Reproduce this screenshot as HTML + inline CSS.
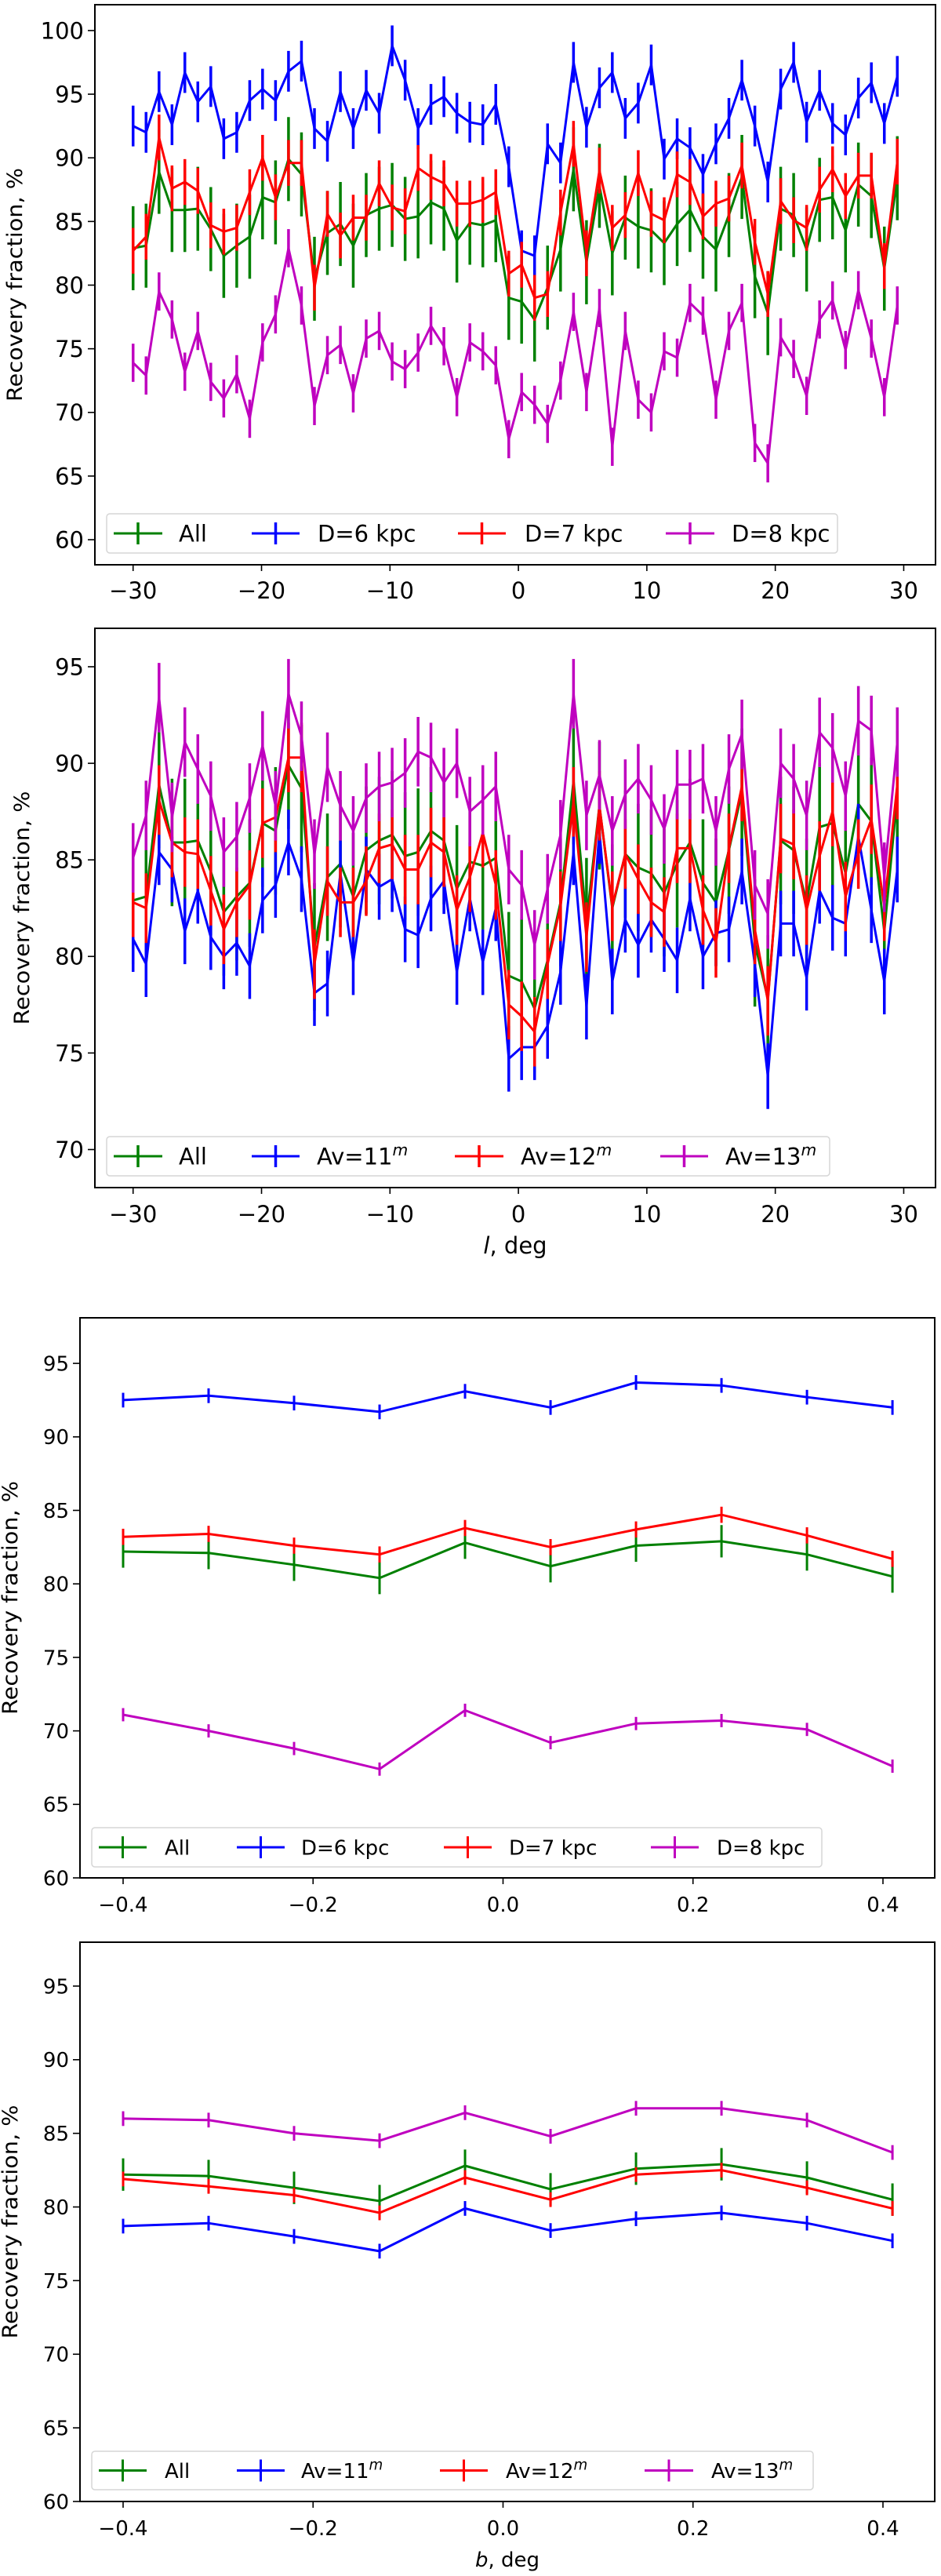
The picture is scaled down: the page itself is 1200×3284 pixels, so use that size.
<!DOCTYPE html>
<html><head><meta charset="utf-8"><style>
html,body{margin:0;padding:0;background:#fff;}
svg{display:block;}
</style></head><body>
<svg id="fig" xmlns="http://www.w3.org/2000/svg" width="1200" height="3284" viewBox="0 0 1200 3284"></svg>
<script>
// ---------- data ----------
const lVals = [-30.00,-28.99,-27.98,-26.97,-25.97,-24.96,-23.95,-22.94,-21.93,-20.92,-19.92,-18.91,-17.90,-16.89,-15.88,-14.87,-13.86,-12.86,-11.85,-10.84,-9.83,-8.82,-7.81,-6.81,-5.80,-4.79,-3.78,-2.77,-1.76,-0.75,0.25,1.26,2.27,3.28,4.29,5.30,6.31,7.31,8.32,9.33,10.34,11.35,12.36,13.36,14.37,15.38,16.39,17.40,18.41,19.42,20.42,21.43,22.44,23.45,24.46,25.47,26.47,27.48,28.49,29.50];
const bVals = [-0.40,-0.31,-0.22,-0.13,-0.04,0.05,0.14,0.23,0.32,0.41];

const lAll = [82.9,83.1,88.9,85.9,85.9,86.0,84.4,82.3,83.1,83.8,86.9,86.5,89.9,88.7,80.5,84.1,84.8,83.1,85.5,86.0,86.3,85.2,85.4,86.5,86.0,
 83.5,84.9,84.7,85.1,79.0,78.7,77.3,79.8,82.8,89.1,81.8,87.8,82.5,85.3,84.6,84.3,83.3,84.8,85.9,83.8,82.8,85.5,88.5,80.7,77.8,86.0,85.5,82.8,86.7,86.9,84.3,87.9,87.0,81.3,88.4];
const lD6 = [92.5,92.0,95.2,92.6,96.7,94.4,95.6,91.5,92.0,94.5,95.4,94.5,96.8,97.6,92.3,91.3,95.2,92.3,95.3,93.5,98.8,96.1,92.3,94.2,94.8,
 93.5,92.8,92.6,94.2,89.3,82.7,82.3,91.1,89.6,97.5,92.4,95.5,96.7,93.1,94.3,97.3,89.9,91.5,90.8,88.7,91.1,93.1,96.1,92.5,88.1,95.4,97.5,92.8,95.3,92.7,91.8,94.7,95.9,92.7,96.4];
const lD7 = [82.7,83.8,91.6,87.6,88.1,87.4,84.7,84.2,84.5,87.3,90.0,86.9,89.6,89.6,79.8,85.6,83.9,85.3,85.3,88.0,86.1,85.8,89.2,88.5,88.0,
 86.4,86.4,86.7,87.3,80.9,81.6,79.0,79.3,85.7,91.1,82.5,89.0,84.5,85.5,88.8,85.6,85.1,88.7,88.1,85.4,86.4,86.8,89.4,83.4,79.3,86.6,85.1,84.5,87.5,89.1,87.0,88.6,88.6,81.5,89.7];
const lD8 = [73.9,72.9,79.5,77.3,73.2,76.4,72.4,71.1,73.0,69.5,75.5,77.7,82.9,78.4,70.5,74.5,75.3,71.5,75.8,76.4,74.0,73.4,74.7,76.8,75.2,
 71.2,75.5,74.8,73.7,67.9,71.6,70.6,69.1,72.5,77.9,71.6,78.2,67.3,76.4,71.0,70.0,74.8,74.3,78.6,77.6,71.0,76.4,78.6,67.6,66.0,75.9,74.2,71.3,77.3,78.8,74.9,79.6,75.8,71.2,78.4];
const lAv11 = [80.9,79.6,85.4,84.5,81.3,83.4,81.0,80.0,80.7,79.5,82.9,83.7,85.9,84.0,78.1,78.6,84.3,79.7,84.5,83.6,84.0,81.4,81.1,83.0,83.9,
 79.2,83.0,79.7,82.5,74.7,75.3,75.3,76.4,79.2,85.4,77.4,86.5,78.7,81.9,80.6,81.9,80.9,79.8,83.0,80.0,81.2,81.4,84.4,79.6,73.8,81.7,81.7,78.9,83.4,82.0,81.7,86.2,82.4,78.7,84.5];
const lAv12 = [82.8,82.5,88.1,85.9,85.4,85.3,83.4,81.4,82.8,83.7,86.9,87.2,90.3,90.3,79.6,83.9,82.8,82.8,83.9,85.6,85.8,84.5,84.5,85.9,85.4,
 82.4,84.1,86.4,83.7,77.5,76.9,76.1,79.6,82.6,88.0,81.0,87.8,82.6,85.3,84.0,82.8,82.3,85.6,85.6,82.4,80.7,85.6,88.8,81.4,77.7,86.1,85.8,82.4,85.2,87.5,83.1,85.3,87.1,82.6,88.9];
const lAv13 = [85.1,87.3,93.4,87.2,91.1,89.7,88.3,85.4,86.2,88.2,90.9,87.8,93.6,91.4,85.3,89.8,87.8,86.5,88.2,88.8,89.0,89.5,90.6,90.3,89.0,
 90.0,87.5,88.1,88.8,84.5,83.7,80.6,83.5,86.3,93.6,87.3,89.4,86.5,88.4,89.2,88.1,86.6,88.9,88.9,89.2,86.5,89.7,91.5,83.7,82.2,90.0,89.2,87.3,91.6,90.8,88.3,92.2,91.7,84.1,91.1];

const bAll = [82.2,82.1,81.3,80.4,82.8,81.2,82.6,82.9,82.0,80.5];
const bD6 = [92.5,92.8,92.3,91.7,93.1,92.0,93.7,93.5,92.7,92.0];
const bD7 = [83.2,83.4,82.6,82.0,83.8,82.5,83.7,84.7,83.3,81.7];
const bD8 = [71.1,70.0,68.8,67.4,71.4,69.2,70.5,70.7,70.1,67.6];
const bAv11 = [78.7,78.9,78.0,77.0,79.9,78.4,79.2,79.6,78.9,77.7];
const bAv12 = [81.9,81.4,80.8,79.6,82.0,80.5,82.2,82.5,81.3,79.9];
const bAv13 = [86.0,85.9,85.0,84.5,86.4,84.8,86.7,86.7,85.9,83.7];

const errLAll = 3.3, errLD6 = 1.6, errLD7 = 1.8, errLD8 = 1.5;
const errLAv11 = 1.7, errLAv12 = 1.8, errLAv13 = 1.8;
const errBAll = 1.1, errBD6 = 0.5, errBD7 = 0.55, errBD8 = 0.45;
const errBAv = 0.5;

const lTicks = [-30,-20,-10,0,10,20,30];
const bTicks = [-0.4,-0.2,0.0,0.2,0.4];
const bTickLabels = ["\u22120.4","\u22120.2","0.0","0.2","0.4"];
const p1YTicks = [60,65,70,75,80,85,90,95,100];
const p2YTicks = [70,75,80,85,90,95];
const p34YTicks = [60,65,70,75,80,85,90,95];

// ---------- drawing ----------
const NS = "http://www.w3.org/2000/svg";
const svg = document.getElementById("fig");
function mk(tag, attrs, parent){
  const e = document.createElementNS(NS, tag);
  for (const k in attrs) e.setAttribute(k, attrs[k]);
  (parent||svg).appendChild(e);
  return e;
}
function fmt(v){ return v<0 ? "\u2212"+String(-v) : String(v); }

function panel(cfg){
  const g = mk("g", {});
  
  
  const sx = v => cfg.L + (v - cfg.xmin) / (cfg.xmax - cfg.xmin) * (cfg.R - cfg.L);
  const sy = v => cfg.B - (v - cfg.ymin) / (cfg.ymax - cfg.ymin) * (cfg.B - cfg.T);
  const font = "DejaVu Sans, Liberation Sans, sans-serif";
  // series
  cfg.series.forEach(s => {
    const sg = mk("g", {}, g);
    
    
    s.vals.forEach((v,i) => {
      const x = sx(cfg.xs[i]);
      const bar = mk("line", {x1:x, x2:x, y1:sy(v - s.err), y2:sy(v + s.err), stroke:s.color, "stroke-width":cfg.bw}, sg);
      
      
    });
    const pts = s.vals.map((v,i) => sx(cfg.xs[i]).toFixed(1) + "," + sy(v).toFixed(1)).join(" ");
    const pl = mk("polyline", {points:pts, fill:"none", stroke:s.color, "stroke-width":cfg.lw, "stroke-linejoin":"miter"}, sg);
    
    
  });
  // legend
  const lg = mk("g", {}, g);
  
  
  const lb = cfg.legend;
  mk("rect", {x:lb.x, y:lb.y, width:lb.w, height:lb.h, rx:4, fill:"#fff", "fill-opacity":0.8, stroke:"#d6d6d6", "stroke-width":1.5}, lg);
  cfg.series.forEach((s, k) => {
    const e = lb.entries[k];
    const eg = mk("g", {}, lg);
    
    
    const cy = lb.y + lb.h/2;
    mk("line", {x1:e.x1, x2:e.x2, y1:cy, y2:cy, stroke:s.color, "stroke-width":cfg.lw}, eg);
    mk("line", {x1:(e.x1+e.x2)/2, x2:(e.x1+e.x2)/2, y1:cy-14, y2:cy+14, stroke:s.color, "stroke-width":cfg.bw}, eg);
    const t = mk("text", {x:e.tx, y:cy + cfg.fs*0.36, "font-family":font, "font-size":cfg.fs, fill:"#000"}, eg);
    t.textContent = s.label;
    if (s.sup){
      const ts = mk("tspan", {dy:-cfg.fs*0.4, "font-size":cfg.fs*0.7, "font-style":"italic"}, t);
      ts.textContent = s.sup;
    }
  });
  // frame
  const fr = mk("rect", {x:cfg.L, y:cfg.T, width:cfg.R-cfg.L, height:cfg.B-cfg.T, fill:"none", stroke:"#000", "stroke-width":2}, g);
  
  
  // x ticks
  cfg.xticks.forEach((v,i) => {
    const x = sx(v);
    mk("line", {x1:x, x2:x, y1:cfg.B, y2:cfg.B+8, stroke:"#000", "stroke-width":1.6}, g);
    const t = mk("text", {x:x, y:cfg.B + cfg.xlabOff, "text-anchor":"middle", "font-family":font, "font-size":cfg.fs, fill:"#000"}, g);
    
    
    t.textContent = cfg.xtickLabels ? cfg.xtickLabels[i] : fmt(v);
  });
  // y ticks
  cfg.yticks.forEach(v => {
    const y = sy(v);
    mk("line", {x1:cfg.L-9, x2:cfg.L, y1:y, y2:y, stroke:"#000", "stroke-width":1.6}, g);
    const t = mk("text", {x:cfg.L-14, y:y + cfg.fs*0.36, "text-anchor":"end", "font-family":font, "font-size":cfg.fs, fill:"#000"}, g);
    
    
    t.textContent = String(v);
  });
  // y label
  const yl = mk("text", {x:0, y:0, transform:"translate(" + cfg.ylx + "," + ((cfg.T+cfg.B)/2) + ") rotate(-90)", "text-anchor":"middle", "font-family":font, "font-size":27, fill:"#000", textLength:298, lengthAdjust:"spacingAndGlyphs"}, g);
  
  
  yl.textContent = "Recovery fraction, %";
  if (cfg.xlabel){
    const xl = mk("text", {x:(cfg.L+cfg.R)/2, y:cfg.xly, "text-anchor":"middle", "font-family":font, "font-size":cfg.fs, fill:"#000"}, g);
    
    
    const it = mk("tspan", {"font-style":"italic"}, xl);
    it.textContent = cfg.xlabel;
    const rest = mk("tspan", {}, xl);
    rest.textContent = ", deg";
  }
}

const GREEN = "#008000", BLUE = "#0000ff", RED = "#ff0000", MAG = "#bf00bf";

panel({name:"panel-l-distance", L:121, R:1193, T:6, B:720, xmin:-32.975, xmax:32.475, ymin:58.03, ymax:102.03,
  xs:lVals, xticks:lTicks, yticks:p1YTicks, fs:29, lw:3, bw:3.5, xlabOff:43, ylx:28,
  legend:{x:136, y:655, w:932, h:50, entries:[{x1:145,x2:207,tx:228},{x1:321,x2:382,tx:405},{x1:584,x2:645,tx:669},{x1:849,x2:911,tx:933}]},
  series:[
    {id:"all", label:"All", color:GREEN, vals:lAll, err:errLAll},
    {id:"d6", label:"D=6 kpc", color:BLUE, vals:lD6, err:errLD6},
    {id:"d7", label:"D=7 kpc", color:RED, vals:lD7, err:errLD7},
    {id:"d8", label:"D=8 kpc", color:MAG, vals:lD8, err:errLD8}
  ]});

panel({name:"panel-l-extinction", L:121, R:1193, T:801, B:1514, xmin:-32.975, xmax:32.475, ymin:68.03, ymax:96.99,
  xs:lVals, xticks:lTicks, yticks:p2YTicks, fs:29, lw:3, bw:3.5, xlabOff:44, ylx:37, xlabel:"l", xly:1598,
  legend:{x:136, y:1449, w:922, h:50, entries:[{x1:145,x2:207,tx:228},{x1:321,x2:382,tx:404},{x1:580,x2:642,tx:664},{x1:842,x2:903,tx:925}]},
  series:[
    {id:"all", label:"All", color:GREEN, vals:lAll, err:errLAll},
    {id:"av11", label:"Av=11", sup:"m", color:BLUE, vals:lAv11, err:errLAv11},
    {id:"av12", label:"Av=12", sup:"m", color:RED, vals:lAv12, err:errLAv12},
    {id:"av13", label:"Av=13", sup:"m", color:MAG, vals:lAv13, err:errLAv13}
  ]});

panel({name:"panel-b-distance", L:102, R:1192, T:1680, B:2394, xmin:-0.4454, xmax:0.4545, ymin:60, ymax:98.1,
  xs:bVals, xticks:bTicks, xtickLabels:bTickLabels, yticks:p34YTicks, fs:26, lw:3, bw:3, xlabOff:43, ylx:22,
  legend:{x:117, y:2330, w:931, h:50, entries:[{x1:126,x2:187,tx:210},{x1:302,x2:363,tx:384},{x1:566,x2:627,tx:649},{x1:830,x2:891,tx:914}]},
  series:[
    {id:"all", label:"All", color:GREEN, vals:bAll, err:errBAll},
    {id:"d6", label:"D=6 kpc", color:BLUE, vals:bD6, err:errBD6},
    {id:"d7", label:"D=7 kpc", color:RED, vals:bD7, err:errBD7},
    {id:"d8", label:"D=8 kpc", color:MAG, vals:bD8, err:errBD8}
  ]});

panel({name:"panel-b-extinction", L:102, R:1192, T:2476, B:3189, xmin:-0.4454, xmax:0.4545, ymin:60, ymax:97.98,
  xs:bVals, xticks:bTicks, xtickLabels:bTickLabels, yticks:p34YTicks, fs:26, lw:3, bw:3, xlabOff:43, ylx:22, xlabel:"b", xly:3272,
  legend:{x:117, y:3125, w:920, h:49, entries:[{x1:126,x2:187,tx:210},{x1:302,x2:363,tx:384},{x1:561,x2:622,tx:645},{x1:822,x2:884,tx:907}]},
  series:[
    {id:"all", label:"All", color:GREEN, vals:bAll, err:errBAll},
    {id:"av11", label:"Av=11", sup:"m", color:BLUE, vals:bAv11, err:errBAv},
    {id:"av12", label:"Av=12", sup:"m", color:RED, vals:bAv12, err:errBAv},
    {id:"av13", label:"Av=13", sup:"m", color:MAG, vals:bAv13, err:errBAv}
  ]});
</script>
</body></html>
